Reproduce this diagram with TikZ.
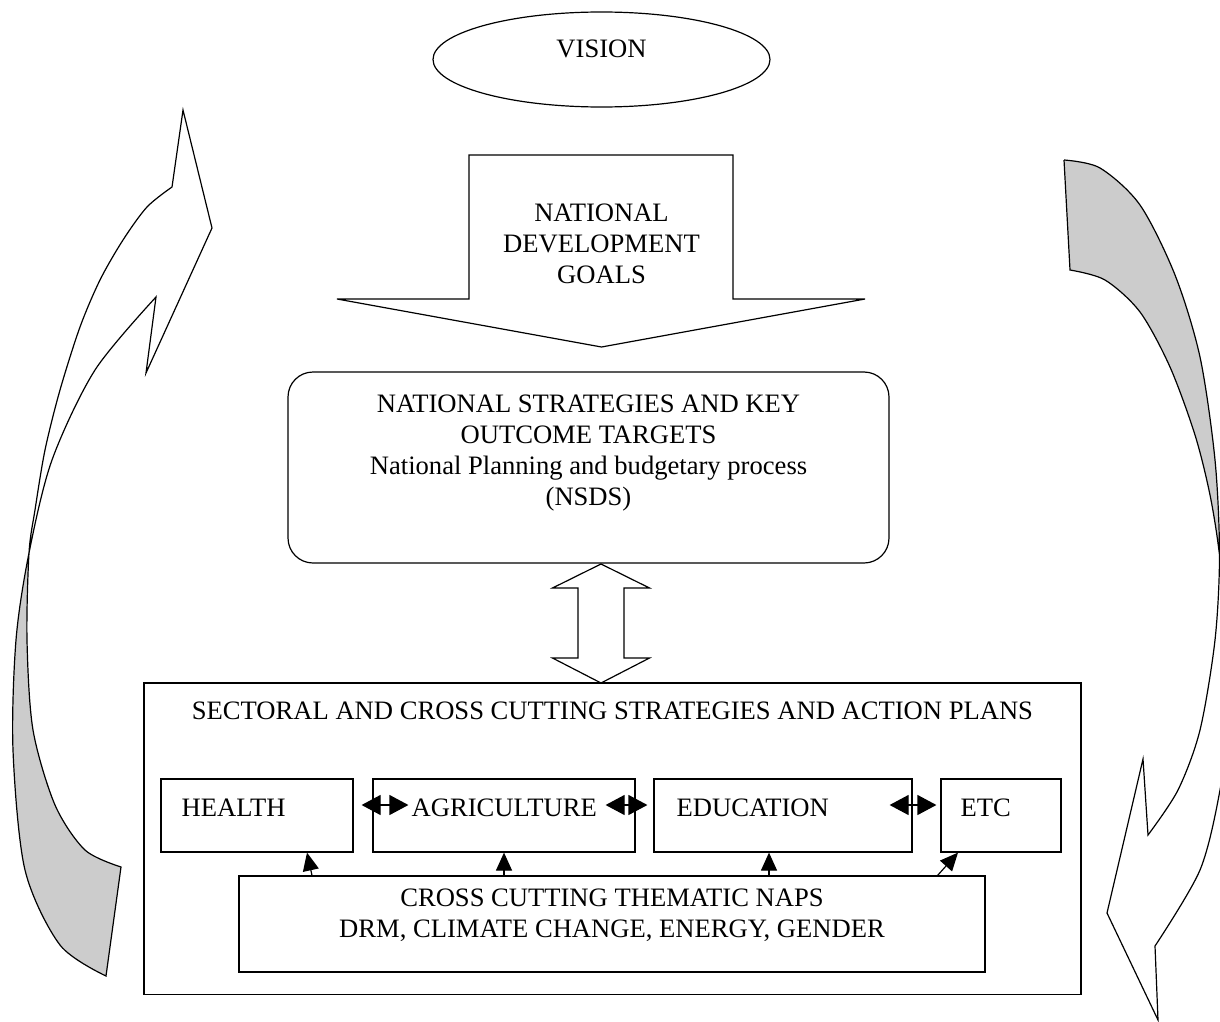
\documentclass[tikz,border=0pt]{standalone}
\usepackage{fontspec}
\setmainfont{Liberation Serif}
\usetikzlibrary{shapes, arrows.meta}

\begin{document}
\begin{tikzpicture}[x=0.5pt, y=-0.5pt, line width=0.6pt,
    every node/.style={font=\fontsize{13.3}{15.4}\selectfont, inner sep=0},
    box/.style={draw, minimum height=36.5pt},
    tip/.style={-{Triangle[length=9pt,width=8pt]}},
    biarrow/.style={{Triangle[length=9.5pt,width=10pt]}-{Triangle[length=9.5pt,width=10pt]}}]

            \useasboundingbox (0,0) rectangle (1220,1022);
            \clip (0,0) rectangle (1220,1022);

            % Vision
            \node[draw, ellipse, minimum width=168.5pt, minimum height=47.5pt] (vision) at (601.5,59.5) {};
            \node[anchor=base] (visiontext) at (601.5,58) {VISION};

            % Goals arrow
            \draw (469,155) -- (733,155) -- (733,299) -- (865,299) -- (601.5,347)
                -- (337,299) -- (469,299) -- cycle;
            \node[align=center, anchor=base] (goals) at (601.5,283) {NATIONAL\\DEVELOPMENT\\GOALS};

            % National strategies
            \node[draw, rounded corners=12.5pt, minimum width=300.5pt, minimum height=95.5pt] (nsds) at (588.5,467.5) {};
            \node[align=center, anchor=base] (nsdstext) at (588.5,505)
                {NATIONAL STRATEGIES AND KEY\\OUTCOME TARGETS\\National Planning and budgetary process\\(NSDS)};

            % Two way arrow
            \draw (601,564) -- (649.5,588) -- (624,588) -- (624,658) -- (649.5,658) -- (601,683)
                -- (552.5,658) -- (578,658) -- (578,588) -- (552.5,588) -- cycle;

            % Sectoral frame
            \node[draw, minimum width=468.5pt, minimum height=155.75pt] (sector) at (612.5,838.75) {};
            \node[anchor=base] (sectortext) at (612.5,719) {SECTORAL AND CROSS CUTTING STRATEGIES AND ACTION PLANS};

            % Sectors
            \node[box, minimum width=96pt] (health) at (257,815.5) {};
            \node[box, minimum width=131pt] (agri) at (504,815.5) {};
            \node[box, minimum width=129pt] (edu) at (783,815.5) {};
            \node[box, minimum width=60pt] (etc) at (1001,815.5) {};
            \node[anchor=base west] (healthtext) at (181,816) {HEALTH};
            \node[anchor=base west] (agritext) at (411,816) {AGRICULTURE};
            \node[anchor=base west] (edutext) at (676,816) {EDUCATION};
            \node[anchor=base west] (etctext) at (960,816) {ETC};

            % Cross cutting NAPs
            \node[draw, minimum width=373pt, minimum height=48pt] (cross) at (612,924) {};
            \node[align=center, anchor=base] (crosstext) at (612,937)
                {CROSS CUTTING THEMATIC NAPS\\DRM, CLIMATE CHANGE, ENERGY, GENDER};

            % Links between sectors
            \draw[biarrow] ([xshift=4pt,yshift=5.25pt]health.east) -- ([xshift=18pt,yshift=5.25pt]agri.west);
            \draw[biarrow] ([xshift=-15pt,yshift=5.25pt]agri.east) -- ([xshift=-3pt,yshift=5.25pt]edu.west);
            \draw[biarrow] ([xshift=-11.5pt,yshift=5.25pt]edu.east) -- ([xshift=-2pt,yshift=5.25pt]etc.west);

            % Links from NAPs
            \draw[tip] ([xshift=-150pt]cross.north) -- ([xshift=25pt]health.south);
            \draw[tip] (agri.south |- cross.north) -- (agri.south);
            \draw[tip] ([xshift=-7pt]edu.south |- cross.north) -- ([xshift=-7pt]edu.south);
            \draw[tip] ([xshift=-24pt]cross.north east) -- ([xshift=-21.5pt]etc.south);

            % Left curved arrow
            \fill[black!20] plot[smooth] coordinates {(29,553) (27,640) (33,730) (55,805) (85,850) (121,867)}
                -- plot[smooth] coordinates {(106,976) (60,945) (25,870) (13,750) (16,640) (29,553)} -- cycle;
            \draw plot[smooth] coordinates {(121,867) (85,850) (55,805) (33,730) (27,640) (29,553)
                (35,510) (45,450) (60,390) (80,327) (100,280) (123,240) (147,207) (172,187)}
                -- (183,110) -- (212,228) -- (146,373)
                -- plot[smooth] coordinates {(156,297) (95,370) (52,460) (29,553) (16,640) (13,750)
                (25,870) (60,945) (106,976)} -- cycle;

            % Right curved arrow
            \fill[black!20] plot[smooth] coordinates {(1064,160) (1100,168) (1140,205) (1175,275) (1200,357) (1215,460) (1219.5,555)}
                -- plot[smooth] coordinates {(1219.5,555) (1210,495) (1195,435) (1170,367) (1140,312) (1105,280) (1070,270)} -- cycle;
            \draw (1064,160) -- plot[smooth] coordinates {(1070,270) (1105,280) (1140,312) (1170,367) (1195,435) (1210,495)
                (1219.5,555) (1227,640) (1228,720) (1220,790) (1200,870) (1155,946)}
                -- (1158,1020) -- (1107,913) -- (1143,759)
                -- plot[smooth] coordinates {(1148,835) (1178,790) (1200,730) (1215,640) (1219.5,555)
                (1215,460) (1200,357) (1175,275) (1140,205) (1100,168) (1064,160)};

        \end{tikzpicture}
\end{document}
